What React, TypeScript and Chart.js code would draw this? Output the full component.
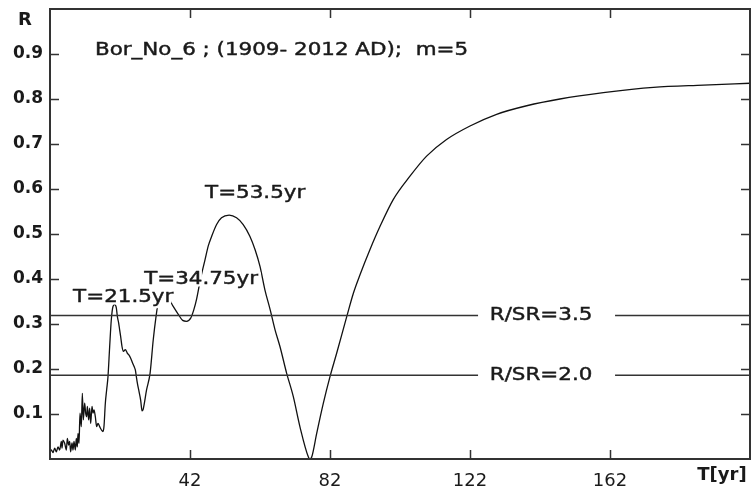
import React, { useEffect, useRef } from 'react';
import { Chart, registerables } from 'chart.js';

Chart.register(...registerables);

// Period T (years) of the spectral scan and the correlation amplitude R
const periodYears = [
  2.0, 2.38, 2.86, 3.33, 3.81, 4.29, 4.76, 5.24, 5.43, 5.71, 6.19, 6.67, 6.95, 7.33, 7.62, 7.9,
  8.29, 8.57, 8.86, 9.24, 9.52, 9.81, 10.0, 10.29, 10.57, 10.95, 11.24, 11.52, 11.9, 12.19, 12.48,
  12.67, 13.05, 13.33, 13.62, 14.0, 14.29, 14.57, 14.95, 15.33, 15.71, 16.19, 16.67, 17.14, 17.43,
  17.81, 18.19, 18.57, 19.05, 19.52, 20.0, 20.48, 20.95, 21.24, 21.62, 21.9, 22.19, 22.57, 22.95,
  23.52, 24.1, 24.48, 25.05, 25.62, 26.0, 26.38, 26.67, 26.95, 27.33, 27.9, 28.3, 28.6, 29.6, 30.6,
  31.5, 32.3, 32.9, 34.4, 35.8, 37.2, 38.7, 39.9, 41.0, 42.2, 43.1, 43.9, 45.0, 46.3, 47.2, 48.2,
  49.6, 51.0, 53.2, 55.3, 57.2, 59.1, 60.6, 62.0, 63.4, 64.9, 66.3, 67.7, 69.6, 71.5, 73.4, 75.8,
  76.3, 76.8, 78.2, 80.1, 82.0, 83.9, 86.8, 88.7, 90.6, 93.4, 96.3, 100.1, 104.9, 109.6, 115.3,
  122.0, 129.6, 138.2, 147.7, 160.1, 174.4, 188.7, 202.0,
];
const rValues = [
  0.016, 0.02, 0.014, 0.024, 0.016, 0.027, 0.02, 0.039, 0.024, 0.042, 0.035, 0.02, 0.046, 0.031,
  0.039, 0.016, 0.036, 0.02, 0.039, 0.02, 0.046, 0.027, 0.057, 0.035, 0.102, 0.072, 0.146, 0.087,
  0.124, 0.102, 0.094, 0.117, 0.087, 0.113, 0.079, 0.117, 0.102, 0.109, 0.094, 0.072, 0.079, 0.072,
  0.065, 0.061, 0.073, 0.124, 0.154, 0.183, 0.25, 0.31, 0.339, 0.343, 0.336, 0.317, 0.302, 0.287,
  0.272, 0.25, 0.239, 0.243, 0.235, 0.232, 0.224, 0.213, 0.206, 0.198, 0.183, 0.169, 0.154, 0.131,
  0.107, 0.11, 0.154, 0.191, 0.265, 0.317, 0.347, 0.365, 0.358, 0.339, 0.321, 0.308, 0.306, 0.313,
  0.332, 0.356, 0.4, 0.443, 0.473, 0.495, 0.521, 0.536, 0.542, 0.536, 0.521, 0.495, 0.465, 0.428,
  0.376, 0.332, 0.287, 0.25, 0.191, 0.139, 0.072, 0.005, 0.0, 0.005, 0.057, 0.124, 0.183, 0.235,
  0.317, 0.369, 0.41, 0.465, 0.517, 0.577, 0.629, 0.673, 0.71, 0.74, 0.766, 0.785, 0.8, 0.814,
  0.826, 0.831, 0.835,
];

// Significance levels drawn as horizontal lines
const thresholdLevels = [0.319, 0.186];
const thresholdLabels = ['R/SR=3.5', 'R/SR=2.0'];

// Peak annotations
const peakLabels = ['T=21.5yr', 'T=34.75yr', 'T=53.5yr'];

const titleText = 'Bor_No_6 ; (1909- 2012 AD);  m=5';
const xAxisName = 'T[yr]';
const yAxisName = 'R';

const xTickValues = [42, 82, 122, 162];
const yTickValues = [0.1, 0.2, 0.3, 0.4, 0.5, 0.6, 0.7, 0.8, 0.9];

const X_MIN = 2;
const X_MAX = 202;

// Anchor points (data units) for the peak annotations: left edge, vertical middle
const peakLabelAnchors = [
  { t: 8.6, r: 0.36 },
  { t: 28.9, r: 0.4 },
  { t: 46.3, r: 0.591 },
];
const thresholdLabelT = 142.3;

const FONT = '"DejaVu Sans", Verdana, sans-serif';
const INK = '#1a1a1a';
const FRAME = '#333333';
const TEXT_STRETCH = 1.19;

// Slightly widened, lightly emboldened text
function wideText(ctx: CanvasRenderingContext2D, txt: string, x: number, y: number, halo = false) {
  ctx.save();
  ctx.translate(x, y);
  ctx.scale(TEXT_STRETCH, 1);
  if (halo) {
    ctx.lineJoin = 'round';
    ctx.lineWidth = 5;
    ctx.strokeStyle = '#ffffff';
    ctx.strokeText(txt, 0, 0);
  }
  ctx.fillStyle = INK;
  ctx.fillText(txt, 0, 0);
  ctx.lineWidth = 0.45;
  ctx.strokeStyle = INK;
  ctx.strokeText(txt, 0, 0);
  ctx.restore();
}

const overlayPlugin = {
  id: 'frameAndNotes',
  afterDatasetsDraw(chart: any) {
    const { ctx, chartArea: a, scales } = chart;
    const xs = scales.x;
    const ys = scales.y;
    ctx.save();

    // labels on the significance lines, with a gap cut into the line
    ctx.font = `18px ${FONT}`;
    ctx.textAlign = 'center';
    ctx.textBaseline = 'middle';
    thresholdLevels.forEach((lvl, i) => {
      const cx = xs.getPixelForValue(thresholdLabelT);
      const cy = ys.getPixelForValue(lvl);
      ctx.fillStyle = '#ffffff';
      ctx.fillRect(cx - 63, cy - 10, 137, 20);
      wideText(ctx, thresholdLabels[i], cx, cy);
    });

    // peak annotations with a white halo
    ctx.textAlign = 'left';
    peakLabels.forEach((txt, i) => {
      const p = peakLabelAnchors[i];
      wideText(ctx, txt, xs.getPixelForValue(p.t), ys.getPixelForValue(p.r), true);
    });

    // title inside the plot
    wideText(ctx, titleText, a.left + 45, a.top + 41);

    // frame
    ctx.strokeStyle = FRAME;
    ctx.lineWidth = 2;
    ctx.strokeRect(a.left, a.top, a.right - a.left, a.bottom - a.top);

    // inward tick marks on all four sides
    const tl = 9;
    ctx.lineWidth = 1.5;
    ctx.beginPath();
    xTickValues.forEach((v) => {
      const x = Math.round(xs.getPixelForValue(v)) + 0.5;
      ctx.moveTo(x, a.bottom);
      ctx.lineTo(x, a.bottom - tl);
      ctx.moveTo(x, a.top);
      ctx.lineTo(x, a.top + tl);
    });
    yTickValues.forEach((v) => {
      const y = Math.round(ys.getPixelForValue(v)) + 0.5;
      ctx.moveTo(a.left, y);
      ctx.lineTo(a.left + tl, y);
      ctx.moveTo(a.right, y);
      ctx.lineTo(a.right - tl, y);
    });
    ctx.stroke();

    // axis names
    ctx.fillStyle = INK;
    ctx.font = `bold 18px ${FONT}`;
    ctx.textAlign = 'center';
    ctx.fillText(yAxisName, a.left - 25, a.top + 11);
    ctx.fillText(xAxisName, a.right - 28, a.bottom + 16);

    ctx.restore();
  },
};

export default function App() {
  const canvasRef = useRef<HTMLCanvasElement | null>(null);

  useEffect(() => {
    if (!canvasRef.current) return;
    const curve = periodYears.map((t, i) => ({ x: t, y: rValues[i] }));
    const levelSets = thresholdLevels.map((lvl) => ({
      data: [
        { x: X_MIN, y: lvl },
        { x: X_MAX, y: lvl },
      ],
      borderColor: FRAME,
      borderWidth: 1.5,
      pointRadius: 0,
      fill: false,
    }));

    const chart = new Chart(canvasRef.current, {
      type: 'line',
      data: {
        datasets: [
          ...levelSets,
          {
            data: curve,
            borderColor: '#111111',
            borderWidth: 1.3,
            pointRadius: 0,
            fill: false,
            cubicInterpolationMode: 'monotone',
          },
        ],
      },
      options: {
        animation: false,
        responsive: true,
        maintainAspectRatio: false,
        layout: { padding: { top: 9, right: 6, left: 0, bottom: 0 } },
        plugins: {
          legend: { display: false },
          tooltip: { enabled: false },
          title: { display: false },
        },
        scales: {
          x: {
            type: 'linear',
            min: X_MIN,
            max: X_MAX,
            afterBuildTicks: (s: any) => {
              s.ticks = xTickValues.map((v) => ({ value: v }));
            },
            afterFit: (s: any) => {
              s.height = 31;
              s.paddingLeft = 0;
              s.paddingRight = 0;
            },
            grid: { display: false, drawTicks: false },
            border: { display: false },
            ticks: {
              padding: 12,
              color: INK,
              font: { family: FONT, size: 18 },
              maxRotation: 0,
              callback: (v: any) => String(v),
            },
          },
          y: {
            type: 'linear',
            min: 0,
            max: 1,
            afterBuildTicks: (s: any) => {
              s.ticks = yTickValues.map((v) => ({ value: v }));
            },
            afterFit: (s: any) => {
              s.width = 50;
              s.paddingTop = 0;
              s.paddingBottom = 0;
            },
            grid: { display: false, drawTicks: false },
            border: { display: false },
            ticks: {
              padding: 7,
              color: INK,
              font: { family: FONT, size: 17, weight: 'bold' },
              callback: (v: any) => Number(v).toFixed(1),
            },
          },
        },
      },
      plugins: [overlayPlugin],
    } as any);

    return () => chart.destroy();
  }, []);

  return (
    <div
      style={{
        position: 'fixed',
        left: 0,
        top: 0,
        width: 756,
        height: 490,
        background: '#ffffff',
      }}
    >
      <canvas ref={canvasRef} />
    </div>
  );
}
